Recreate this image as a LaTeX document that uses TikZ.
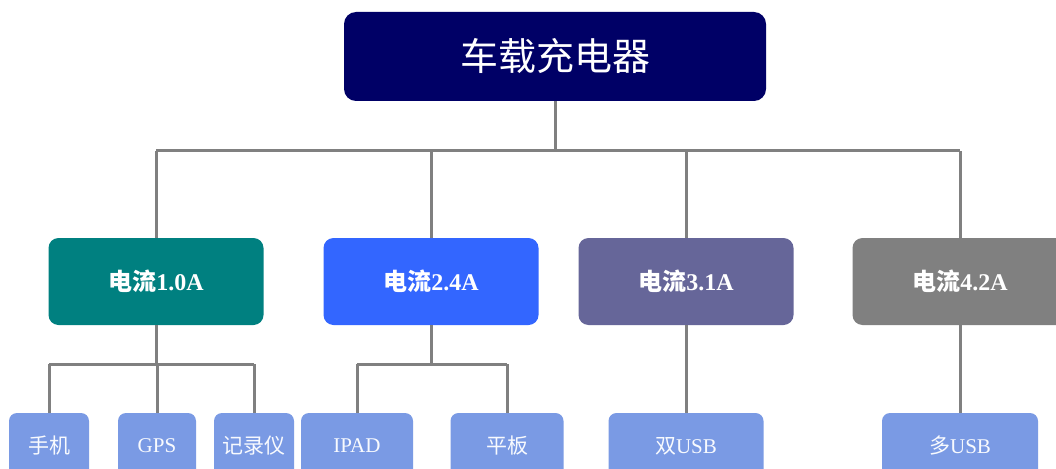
\documentclass[tikz,border=0pt]{standalone}
\usepackage{fontspec}
\newfontfamily\cjk{Noto Sans CJK SC}
\newfontfamily\lat{Liberation Serif}
\definecolor{navy}{RGB}{0,0,102}
\definecolor{tealbox}{RGB}{0,128,128}
\definecolor{bluebox}{RGB}{51,102,255}
\definecolor{purplebox}{RGB}{102,102,153}
\definecolor{graybox}{RGB}{128,128,128}
\definecolor{leafbox}{RGB}{122,154,228}
\definecolor{linegray}{RGB}{128,128,128}
\begin{document}
\begin{tikzpicture}[x=1pt,y=-1pt,
  topbox/.style={rectangle,rounded corners=12pt,fill=navy,text=white,minimum width=422pt,minimum height=89pt,inner sep=0pt,font=\cjk\fontsize{38}{40}\selectfont},
  midbox/.style={rectangle,rounded corners=10pt,fill=#1,text=white,minimum width=215pt,minimum height=87pt,inner sep=0pt,font=\cjk\bfseries\fontsize{24}{26}\selectfont},
  leaf/.style={rectangle,rounded corners=8pt,fill=leafbox,text=white!95!leafbox,minimum height=66pt,inner sep=0pt,font=\cjk\fontsize{21}{23}\selectfont},
  conn/.style={draw=linegray,line width=3pt}]
\useasboundingbox (0,0) rectangle (1056,468);
\clip (0,0) rectangle (1056,468);
\fill[white] (0,0) rectangle (1056,468);
\node[topbox] (top) at (555,56.5) {车载充电器};
\node[midbox=tealbox] (b1) at (156,281.5) {电流{\lat\bfseries 1.0A}};
\node[midbox=bluebox] (b2) at (431,281.5) {电流{\lat\bfseries 2.4A}};
\node[midbox=purplebox] (b3) at (686,281.5) {电流{\lat\bfseries 3.1A}};
\node[midbox=graybox] (b4) at (960,281.5) {电流{\lat\bfseries 4.2A}};
\node[leaf,minimum width=80pt] (l1) at (49,446) {手机};
\node[leaf,minimum width=78pt] (l2) at (157,446) {\lat GPS};
\node[leaf,minimum width=80pt] (l3) at (254,446) {记录仪};
\node[leaf,minimum width=112pt] (l4) at (357,446) {\lat IPAD};
\node[leaf,minimum width=113pt] (l5) at (507,446) {平板};
\node[leaf,minimum width=155pt] (l6) at (686,446) {双{\lat USB}};
\node[leaf,minimum width=156pt] (l7) at (960,446) {多{\lat USB}};
\coordinate (bus) at (0,150.5);
\coordinate (sub) at (0,364);
\draw[conn] (top.south) -- (top.south |- bus);
\draw[conn] (b1.north |- bus) -- (b4.north |- bus);
\foreach \b in {b1,b2,b3,b4} \draw[conn] (\b.north) -- (\b.north |- bus);
\draw[conn] (b1.south) -- (b1.south |- sub);
\draw[conn] (l1.north |- sub) -- (l3.north |- sub);
\foreach \l in {l1,l2,l3} \draw[conn] (\l.north) -- (\l.north |- sub);
\draw[conn] (b2.south) -- (b2.south |- sub);
\draw[conn] (l4.north |- sub) -- (l5.north |- sub);
\foreach \l in {l4,l5} \draw[conn] (\l.north) -- (\l.north |- sub);
\draw[conn] (b3.south) -- (l6.north);
\draw[conn] (b4.south) -- (l7.north);
\end{tikzpicture}
\end{document}
